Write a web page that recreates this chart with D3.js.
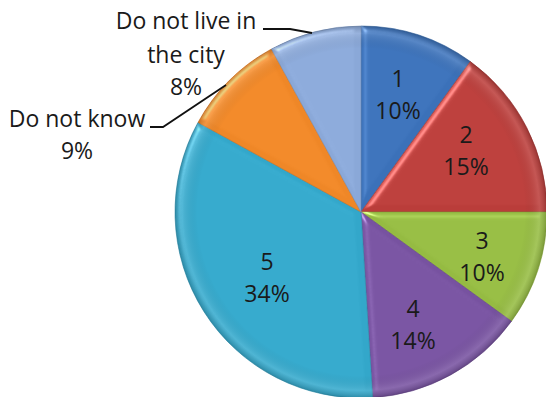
<!DOCTYPE html>
<html>
<head>
<meta charset="utf-8">
<script src="https://cdn.jsdelivr.net/npm/d3@7"></script>
<style>
  html, body { margin: 0; padding: 0; background: #fff; }
  svg { display: block; }
  text { font-family: "Open Sans", "Noto Sans", sans-serif; fill: #1a1a1a; }
</style>
</head>
<body>
<svg id="chart" width="546" height="397"></svg>
<script>
// Survey answers, clockwise from 12 o'clock
const categories = ["1", "2", "3", "4", "5", "Do not know", "Do not live in the city"];
const shares = [10, 15, 10, 14, 34, 9, 8];
const colors = ["#3b71b9", "#ba3d3a", "#95bb42", "#7752a0", "#33a7ca", "#ef8727", "#8aa8d8"];

const W = 546, H = 397;
const cx = 361, cy = 212, R = 186;

const svg = d3.select("#chart");
const defs = svg.append("defs");

// Bevel: soft highlight on edges that face the upper left
const f = defs.append("filter").attr("id", "bevel")
  .attr("color-interpolation-filters", "sRGB")
  .attr("x", "-10%").attr("y", "-10%").attr("width", "120%").attr("height", "120%");
f.append("feGaussianBlur").attr("in", "SourceAlpha").attr("stdDeviation", 3).attr("result", "blur");
f.append("feSpecularLighting").attr("in", "blur").attr("surfaceScale", 4)
  .attr("specularConstant", 0.8).attr("specularExponent", 25)
  .attr("lighting-color", "#ffffff").attr("result", "spec")
  .append("feDistantLight").attr("azimuth", 225).attr("elevation", 35);
f.append("feComposite").attr("in", "spec").attr("in2", "SourceAlpha")
  .attr("operator", "in").attr("result", "specIn");
f.append("feComposite").attr("in", "SourceGraphic").attr("in2", "specIn")
  .attr("operator", "arithmetic").attr("k1", 0).attr("k2", 1).attr("k3", 0.42).attr("k4", 0);

// Soft rim shading around the whole disc
const rg = defs.append("radialGradient").attr("id", "rim")
  .attr("gradientUnits", "userSpaceOnUse").attr("cx", 0).attr("cy", 0).attr("r", R);
rg.append("stop").attr("offset", "0.88").attr("stop-color", "#000").attr("stop-opacity", 0);
rg.append("stop").attr("offset", "0.96").attr("stop-color", "#fff").attr("stop-opacity", 0.12);
rg.append("stop").attr("offset", "1").attr("stop-color", "#000").attr("stop-opacity", 0.18);

const pie = d3.pie().sort(null).value(d => d.v);
const arcs = pie(categories.map((c, i) => ({ c, v: shares[i], col: colors[i] })));
const arc = d3.arc().innerRadius(0).outerRadius(R);

const g = svg.append("g").attr("transform", `translate(${cx},${cy})`);
g.selectAll("path.slice").data(arcs).join("path")
  .attr("class", "slice")
  .attr("d", arc)
  .attr("fill", d => d.data.col)
  .attr("stroke", d => d3.color(d.data.col).darker(0.5))
  .attr("stroke-width", 0.6)
  .attr("filter", "url(#bevel)");
g.append("circle").attr("r", R).attr("fill", "url(#rim)");

// In-slice labels: category over share
const fs = 23;
const inside = [
  { i: 0, x: 398, y: 87 },
  { i: 1, x: 466, y: 143 },
  { i: 2, x: 482, y: 249 },
  { i: 3, x: 413, y: 317 },
  { i: 4, x: 267, y: 270 }
];
inside.forEach(p => {
  const t = svg.append("text").attr("text-anchor", "middle").attr("font-size", fs);
  t.append("tspan").attr("x", p.x).attr("y", p.y).text(categories[p.i]);
  t.append("tspan").attr("x", p.x).attr("y", p.y + 32).text(shares[p.i] + "%");
});

// Outside labels with leader lines
const t5 = svg.append("text").attr("text-anchor", "middle").attr("font-size", fs);
t5.append("tspan").attr("x", 77).attr("y", 127).text(categories[5]);
t5.append("tspan").attr("x", 77).attr("y", 159).text(shares[5] + "%");

const t6 = svg.append("text").attr("text-anchor", "middle").attr("font-size", fs);
t6.append("tspan").attr("x", 186).attr("y", 29).text("Do not live in");
t6.append("tspan").attr("x", 186).attr("y", 63).text("the city");
t6.append("tspan").attr("x", 186).attr("y", 95).text(shares[6] + "%");

const line = d3.line();
svg.append("path").attr("d", line([[150, 127], [163, 127], [226, 85]]))
  .attr("fill", "none").attr("stroke", "#111").attr("stroke-width", 1.8);
svg.append("path").attr("d", line([[263, 29], [290, 29], [312, 33]]))
  .attr("fill", "none").attr("stroke", "#111").attr("stroke-width", 1.8);
</script>
</body>
</html>
